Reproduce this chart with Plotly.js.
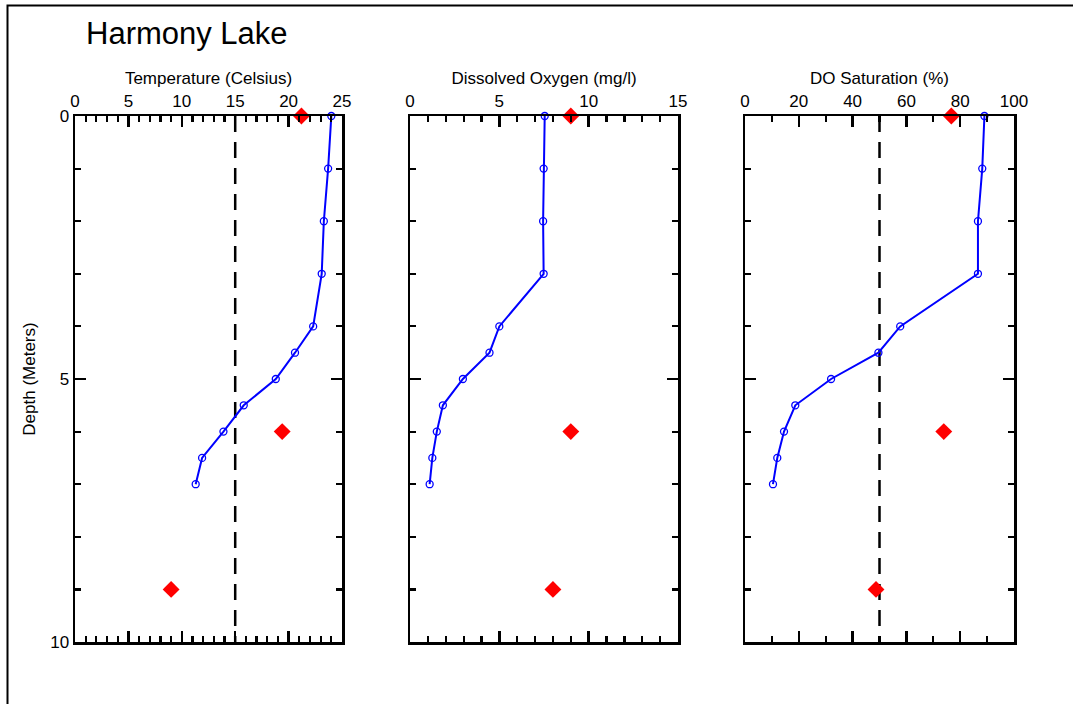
<!DOCTYPE html>
<html><head><meta charset="utf-8">
<script src="https://cdn.plot.ly/plotly-3.0.1.min.js"></script>
<style>html,body{margin:0;padding:0;background:#fff}#chart{width:1073px;height:704px}</style>
</head><body><div id="chart"></div>
<script>
// Profile measurements (depth in meters)
const depth = [0, 1, 2, 3, 4, 4.5, 5, 5.5, 6, 6.5, 7];
const temperature = [24.0, 23.7, 23.3, 23.1, 22.3, 20.6, 18.8, 15.8, 13.9, 11.9, 11.3];
const dissolvedOxygen = [7.54, 7.48, 7.45, 7.48, 5.0, 4.45, 2.96, 1.84, 1.5, 1.25, 1.1];
const doSaturation = [89.0, 88.2, 86.6, 86.6, 57.7, 49.6, 32.0, 18.7, 14.5, 12.0, 10.4];
// Reference (red diamond) measurements
const refDepth = [0, 6, 9];
const refTemperature = [21.2, 19.4, 9.0];
const refDissolvedOxygen = [9.0, 9.0, 8.0];
const refSaturation = [76.7, 73.9, 48.7];
// Threshold lines
const thresholdDepth = [0, 10];
const tempThreshold = [15, 15];
const satThreshold = [50, 50];
// Axis titles
const chartTitle = "Harmony Lake";
const xTitles = ["Temperature (Celsius)", "Dissolved Oxygen (mg/l)", "DO Saturation (%)"];
const yTitle = "Depth (Meters)";

const FONT = "Arial, 'Liberation Sans', sans-serif";
const W = 1073, H = 704;
const px = v => v / W, py = v => 1 - v / H;

function profile(x, y, xa, ya) {
  return {x: x, y: y, xaxis: xa, yaxis: ya, type: 'scatter', mode: 'lines+markers',
    line: {color: '#0000ff', width: 2},
    marker: {symbol: 'circle-open', size: 7, color: '#0000ff', line: {width: 1.3, color: '#0000ff'}},
    cliponaxis: false, showlegend: false, hoverinfo: 'x+y'};
}
function refs(x, y, xa, ya) {
  return {x: x, y: y, xaxis: xa, yaxis: ya, type: 'scatter', mode: 'markers',
    marker: {symbol: 'diamond', size: 13, color: '#ff0000'},
    cliponaxis: false, showlegend: false, hoverinfo: 'x+y'};
}
function dashed(x, y, xa, ya) {
  return {x: x, y: y, xaxis: xa, yaxis: ya, type: 'scatter', mode: 'lines',
    line: {color: '#000', width: 2.5, dash: '16px,10px'}, showlegend: false, hoverinfo: 'skip'};
}

const data = [
  dashed(tempThreshold, thresholdDepth, 'x', 'y'),
  profile(temperature, depth, 'x', 'y'),
  refs(refTemperature, refDepth, 'x', 'y'),
  profile(dissolvedOxygen, depth, 'x2', 'y2'),
  refs(refDissolvedOxygen, refDepth, 'x2', 'y2'),
  dashed(satThreshold, thresholdDepth, 'x3', 'y3'),
  profile(doSaturation, depth, 'x3', 'y3'),
  refs(refSaturation, refDepth, 'x3', 'y3')
];

function xAxis(domain, range, dtick, minor, title, anchor) {
  return {domain: domain, range: range, side: 'top', anchor: anchor,
    showgrid: false, zeroline: false, showline: true, linewidth: 2.5, linecolor: '#000', mirror: 'ticks',
    ticks: 'inside', ticklen: 11, tickwidth: 2.4, tickcolor: '#000', tick0: 0, dtick: dtick,
    minor: {dtick: minor, ticks: 'inside', ticklen: 6, tickwidth: 2.2, tickcolor: '#000', showgrid: false},
    tickfont: {family: FONT, size: 17, color: '#000'},
    title: {text: title, font: {family: FONT, size: 17, color: '#000'}, standoff: 3},
    fixedrange: true};
}
function yAxis(anchor, labels) {
  return {domain: [py(642), py(116)], range: [10, 0], anchor: anchor,
    showgrid: false, zeroline: false, showline: true, linewidth: 2.5, linecolor: '#000', mirror: 'ticks',
    ticks: 'inside', ticklen: 11, tickwidth: 2.4, tickcolor: '#000', tick0: 0, dtick: 5,
    minor: {dtick: 1, ticks: 'inside', ticklen: 6, tickwidth: 2.2, tickcolor: '#000', showgrid: false},
    showticklabels: labels,
    tickfont: {family: FONT, size: 17, color: '#000'},
    title: labels ? {text: yTitle, font: {family: FONT, size: 17, color: '#000'}, standoff: 10} : {text: ''},
    fixedrange: true};
}

const layout = {
  width: W, height: H, margin: {l: 0, r: 0, t: 0, b: 0},
  paper_bgcolor: '#fff', plot_bgcolor: '#fff',
  font: {family: FONT, color: '#000'},
  title: {text: chartTitle, font: {family: FONT, size: 31, color: '#000'},
    x: px(86), xanchor: 'left', xref: 'paper', y: py(33), yanchor: 'middle', yref: 'paper'},
  xaxis: xAxis([px(75), px(342)], [0, 25], 5, 1, xTitles[0], 'y'),
  xaxis2: xAxis([px(410), px(678)], [0, 15], 5, 1, xTitles[1], 'y2'),
  xaxis3: xAxis([px(745), px(1014)], [0, 100], 20, 10, xTitles[2], 'y3'),
  yaxis: yAxis('x', true),
  yaxis2: yAxis('x2', false),
  yaxis3: yAxis('x3', false),
  shapes: [{type: 'rect', xref: 'paper', yref: 'paper', x0: px(7.5), x1: 1.1, y0: -0.1, y1: py(5.5),
    line: {color: '#000', width: 2}, fillcolor: 'rgba(0,0,0,0)', layer: 'below'}],
  showlegend: false
};

Plotly.newPlot('chart', data, layout, {staticPlot: true, displayModeBar: false});
</script>
</body></html>
